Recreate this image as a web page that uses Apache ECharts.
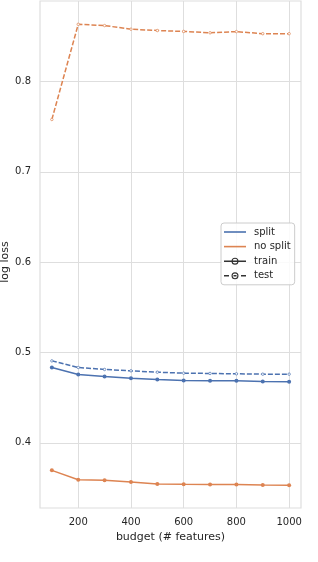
<!DOCTYPE html>
<html><head><meta charset="utf-8">
<script src="https://cdn.jsdelivr.net/npm/echarts@6/dist/echarts.min.js"></script>
<style>html,body{margin:0;padding:0;background:#fff}#c{width:318px;height:562px}</style>
</head><body><div id="c"></div>
<script>
const budgets = [100, 200, 300, 400, 500, 600, 700, 800, 900, 1000];
const splitTrain = [0.4834, 0.4757, 0.4735, 0.4716, 0.4700, 0.4690, 0.4687, 0.4687, 0.4680, 0.4675];
const splitTest = [0.4907, 0.4834, 0.4812, 0.4797, 0.4782, 0.4771, 0.4768, 0.4764, 0.4760, 0.4760];
const noSplitTrain = [0.3695, 0.3590, 0.3584, 0.3566, 0.3544, 0.3540, 0.3537, 0.3537, 0.3533, 0.3530];
const noSplitTest = [0.7580, 0.8634, 0.8620, 0.8580, 0.8565, 0.8555, 0.8540, 0.8553, 0.8530, 0.8530];
const xTicks = [200, 400, 600, 800, 1000];
const yTicks = [0.4, 0.5, 0.6, 0.7, 0.8];

const BLUE = '#4C72B0', ORANGE = '#DD8452', GRID = '#dedede';
const F = 'DejaVu Sans';
const pair = a => budgets.map((b, i) => [b, a[i]]);

function dataSeries(name, data, color, dashed) {
  return {
    name: name, type: 'line', data: pair(data),
    symbol: 'circle', symbolSize: dashed ? 2.5 : 4,
    itemStyle: { color: dashed ? '#fff' : color, borderColor: color, borderWidth: dashed ? 0.7 : 0 },
    lineStyle: { color: color, width: 1.5, type: dashed ? [5, 2] : 'solid' },
    silent: true, animation: false, z: 3
  };
}
function legendSeries(name, color) {
  return { name: name, type: 'line', data: [], color: color, animation: false };
}
const BAR = 'M0,4.7 v1.6 h22 v-1.6 Z';
const RING = 'M7.5,5.5 a3.5,3.5 0 1,0 7,0 a3.5,3.5 0 1,0 -7,0 Z M8.6,5.5 a2.4,2.4 0 1,1 4.8,0 a2.4,2.4 0 1,1 -4.8,0 Z';
const INNER = 'M9.5,4.7 v1.6 h3 v-1.6 Z';
const DASH = 'M0,4.7 v1.6 h5 v-1.6 Z M17,4.7 v1.6 h5 v-1.6 Z';

const chart = echarts.init(document.getElementById('c'), null, { renderer: 'canvas' });
chart.setOption({
  animation: false,
  grid: { left: 40, right: 17, top: 1, bottom: 54, show: true, borderColor: GRID, borderWidth: 1.2,
          containLabel: false, outerBoundsMode: 'none' },
  graphic: [{
    type: 'text', x: 5, y: 262, rotation: Math.PI / 2, silent: true,
    style: { text: 'log loss', fill: '#262626', font: '11px "DejaVu Sans"', align: 'center', verticalAlign: 'middle' }
  }],
  xAxis: {
    type: 'value', min: 55, max: 1045,
    axisLine: { show: false }, axisTick: { show: false, customValues: xTicks },
    axisLabel: { customValues: xTicks, color: '#262626', fontFamily: F, fontSize: 10, margin: 9, formatter: v => String(v) },
    splitLine: { show: true, lineStyle: { color: GRID, width: 1 } },
    name: 'budget (# features)', nameLocation: 'middle', nameGap: 23,
    nameTextStyle: { color: '#262626', fontFamily: F, fontSize: 11 }
  },
  yAxis: {
    type: 'value', min: 0.3278, max: 0.8892,
    axisLine: { show: false }, axisTick: { show: false, customValues: yTicks },
    axisLabel: { customValues: yTicks, color: '#262626', fontFamily: F, fontSize: 10, margin: 9, formatter: v => v.toFixed(1) },
    splitLine: { show: true, lineStyle: { color: GRID, width: 1 } }
  },
  legend: {
    data: [
      { name: 'split', icon: 'path://' + BAR, itemStyle: { color: BLUE } },
      { name: 'no split', icon: 'path://' + BAR, itemStyle: { color: ORANGE } },
      { name: 'train', icon: 'path://' + BAR + ' ' + RING, itemStyle: { color: '#333' } },
      { name: 'test', icon: 'path://' + DASH + ' ' + RING + ' ' + INNER, itemStyle: { color: '#333' } }
    ],
    left: 221, top: 223, orient: 'vertical', itemGap: 4.6, itemWidth: 22, itemHeight: 11,
    padding: [4, 4, 4, 3],
    backgroundColor: 'rgba(255,255,255,0.85)', borderColor: '#cccccc', borderWidth: 1, borderRadius: 3,
    textStyle: { color: '#262626', fontFamily: F, fontSize: 10, padding: [0, 0, 0, 3] },
    selectedMode: false
  },
  series: [
    dataSeries('s_train', splitTrain, BLUE, false),
    dataSeries('s_test', splitTest, BLUE, true),
    dataSeries('n_train', noSplitTrain, ORANGE, false),
    dataSeries('n_test', noSplitTest, ORANGE, true),
    legendSeries('split', BLUE),
    legendSeries('no split', ORANGE),
    legendSeries('train', '#333'),
    legendSeries('test', '#333')
  ]
});
</script></body></html>
